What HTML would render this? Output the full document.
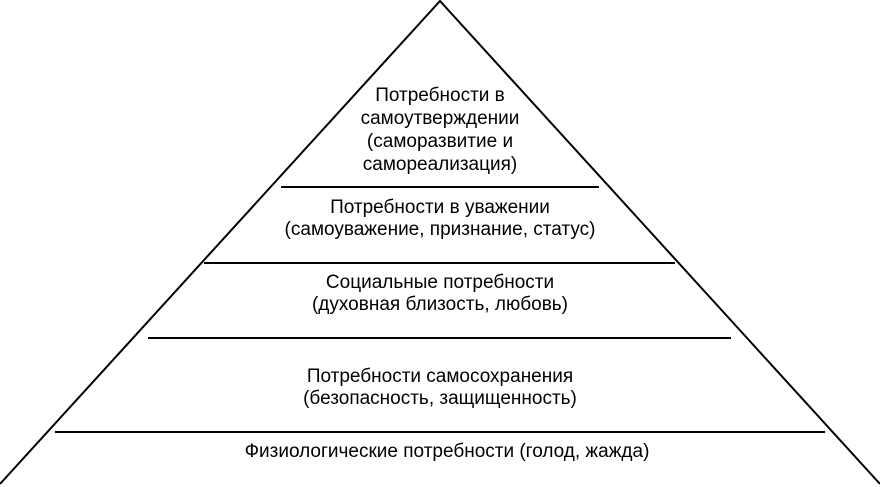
<!DOCTYPE html>
<html><head><meta charset="utf-8"><style>
html,body{margin:0;padding:0;background:#fff;}
svg{display:block;}
text{font-family:"Liberation Sans",Arial,sans-serif;font-size:19px;fill:#000;text-anchor:middle;}
</style></head><body>
<svg width="880" height="487" viewBox="0 0 880 487">
<polyline points="0,484 440,1 880,484" fill="none" stroke="#000" stroke-width="2"/>
<line x1="281" y1="187" x2="599" y2="187" stroke="#000" stroke-width="2"/>
<line x1="204" y1="263" x2="675" y2="263" stroke="#000" stroke-width="2"/>
<line x1="148" y1="338" x2="731" y2="338" stroke="#000" stroke-width="2"/>
<line x1="55" y1="432" x2="825" y2="432" stroke="#000" stroke-width="2"/>
<text x="440" y="101">Потребности в</text>
<text x="440" y="124">самоутверждении</text>
<text x="440" y="147">(саморазвитие и</text>
<text x="440" y="170">самореализация)</text>
<text x="440" y="213">Потребности в уважении</text>
<text x="440" y="235">(самоуважение, признание, статус)</text>
<text x="440" y="288">Социальные потребности</text>
<text x="440" y="310">(духовная близость, любовь)</text>
<text x="440" y="382">Потребности самосохранения</text>
<text x="440" y="404">(безопасность, защищенность)</text>
<text x="447" y="457">Физиологические потребности (голод, жажда)</text>
</svg>
</body></html>
